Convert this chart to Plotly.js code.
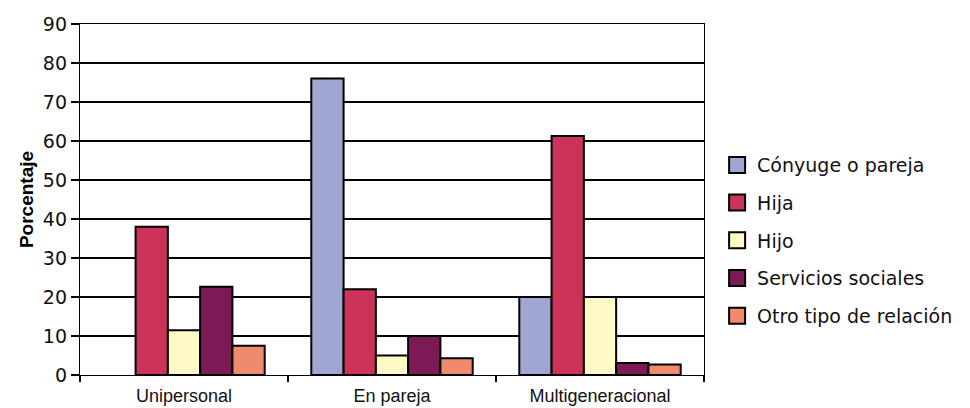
<!DOCTYPE html>
<html>
<head>
<meta charset="utf-8">
<script src="https://cdn.plot.ly/plotly-3.0.1.min.js"></script>
<style>html,body{margin:0;padding:0;background:#fff;}#chart{width:970px;height:408px;}</style>
</head>
<body>
<div id="chart"></div>
<script>
var categories = ["Unipersonal", "En pareja", "Multigeneracional"];
var seriesNames = ["Cónyuge o pareja", "Hija", "Hijo", "Servicios sociales", "Otro tipo de relación"];
var conyuge = [null, 76, 20];
var hija = [38, 22, 61.3];
var hijo = [11.5, 5, 20];
var servicios = [22.6, 10, 3.1];
var otro = [7.5, 4.3, 2.7];
var colors = ["#9FA6D2", "#CC3358", "#FFF9C6", "#7B1A55", "#EF8A6F"];
var yTicks = [0, 10, 20, 30, 40, 50, 60, 70, 80, 90];

var seriesValues = [conyuge, hija, hijo, servicios, otro];
var traces = [];
seriesValues.forEach(function (vals, i) {
  traces.push({
    type: "bar", name: seriesNames[i], x: categories, y: vals,
    marker: {color: colors[i], line: {color: "#000", width: 2}},
    showlegend: false, hoverinfo: "x+y+name"
  });
});
seriesValues.forEach(function (vals, i) {
  traces.push({
    type: "scatter", mode: "markers", name: seriesNames[i], x: [null], y: [null],
    marker: {symbol: "square", size: 16, color: colors[i], line: {color: "#000", width: 2}},
    legendgroup: "g" + i, showlegend: true, hoverinfo: "skip"
  });
});

var layout = {
  width: 970, height: 408,
  margin: {l: 80, r: 264, t: 24, b: 33, pad: 0},
  paper_bgcolor: "#fff", plot_bgcolor: "#fff",
  font: {family: "DejaVu Sans, Arial, sans-serif", size: 19, color: "#111"},
  barmode: "group", bargap: 0.224, bargroupgap: 0,
  xaxis: {
    type: "category", showgrid: false, zeroline: false,
    showline: true, linecolor: "#000", linewidth: 1.2, mirror: true,
    ticks: "outside", tickson: "boundaries", ticklen: 6, tickcolor: "#000", tickwidth: 1.2,
    ticklabelstandoff: 4,
    tickfont: {family: "Liberation Sans, Arial, sans-serif", size: 18, color: "#111"}
  },
  yaxis: {
    range: [0, 90], tickvals: yTicks, ticktext: yTicks.map(String),
    showgrid: true, gridcolor: "#000", gridwidth: 1.2, zeroline: false,
    showline: true, linecolor: "#000", linewidth: 1.2, mirror: true,
    ticks: "outside", ticklen: 8, tickcolor: "#000", tickwidth: 1.2,
    tickfont: {family: "DejaVu Sans, sans-serif", size: 19, color: "#111"},
    title: {text: "Porcentaje", font: {family: "Liberation Sans, Arial, sans-serif", size: 19, color: "#000", weight: "bold"}, standoff: 4}
  },
  legend: {
    x: 1.021, xanchor: "left", y: 0.383, yanchor: "middle",
    bgcolor: "rgba(0,0,0,0)", borderwidth: 0,
    traceorder: "grouped", tracegroupgap: 10,
    font: {family: "DejaVu Sans, sans-serif", size: 19, color: "#111"}
  },
  showlegend: true
};

Plotly.newPlot("chart", traces, layout, {displayModeBar: false, staticPlot: true});
</script>
</body>
</html>
